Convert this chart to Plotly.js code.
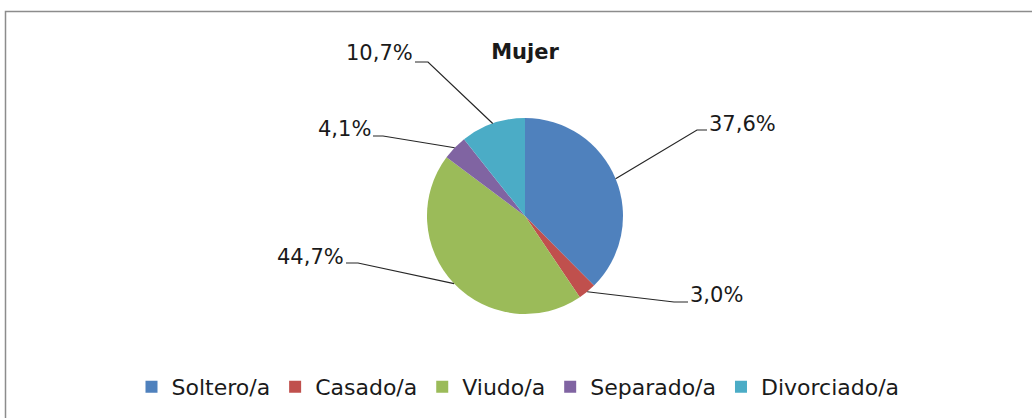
<!DOCTYPE html>
<html>
<head>
<meta charset="utf-8">
<script src="https://cdn.plot.ly/plotly-3.0.1.min.js"></script>
<style>html,body{margin:0;padding:0;background:#fff;}#chart{width:1032px;height:418px;}</style>
</head>
<body>
<div id="chart"></div>
<script>
// ---- data ----
const categories = ["Soltero/a", "Casado/a", "Viudo/a", "Separado/a", "Divorciado/a"];
const values = [37.6, 3.0, 44.7, 4.1, 10.7];
const colors = ["#4F81BD", "#C0504D", "#9BBB59", "#8064A2", "#4BACC6"];
const chartTitle = "Mujer";

// ---- layout constants (pixels) ----
const W = 1032, H = 418;
const CX = 525, CY = 216, R = 98;
// per-slice label placement: elbow of leader line, text anchor and side
const labelPlacement = [
  {ex: 697, ey: 130, tx: 708, ty: 124, side: "right"},
  {ex: 674, ey: 302, tx: 689, ty: 295, side: "right"},
  {ex: 358, ey: 263, tx: 345, ty: 257, side: "left"},
  {ex: 383, ey: 136, tx: 372, ty: 129, side: "left"},
  {ex: 428, ey: 62,  tx: 414, ty: 53,  side: "left"}
];

const px = x => x / W;
const py = y => 1 - y / H;
const fmt = v => v.toFixed(1).replace(".", ",") + "%";

const total = values.reduce((a, b) => a + b, 0);
const shapes = [];
const annotations = [];
let cum = 0;
values.forEach((v, i) => {
  const mid = (cum + v / 2) / total * 2 * Math.PI; // clockwise from top
  cum += v;
  const tipX = CX + R * Math.sin(mid);
  const tipY = CY - R * Math.cos(mid);
  const L = labelPlacement[i];
  const hx = L.side === "right" ? L.tx - 1 : L.tx + 1;
  shapes.push({
    type: "path", xref: "paper", yref: "paper",
    path: `M${px(tipX)},${py(tipY)} L${px(L.ex)},${py(L.ey)} L${px(hx)},${py(L.ey)}`,
    line: {color: "#262626", width: 1.2}
  });
  annotations.push({
    xref: "paper", yref: "paper", x: px(L.tx), y: py(L.ty),
    xanchor: L.side === "right" ? "left" : "right", yanchor: "middle",
    text: fmt(v), showarrow: false, borderpad: 0,
    font: {family: "DejaVu Sans", size: 21, color: "#1a1a1a"}
  });
});

// chart frame
shapes.push({
  type: "rect", xref: "paper", yref: "paper",
  x0: px(5.5), y0: py(11.5), x1: px(W + 20), y1: py(H + 20),
  line: {color: "#8c8c8c", width: 1.5}, fillcolor: "rgba(0,0,0,0)"
});

const trace = {
  type: "pie",
  labels: categories,
  values: values,
  sort: false,
  direction: "clockwise",
  rotation: 0,
  textinfo: "none",
  hoverinfo: "label+percent",
  marker: {colors: colors, line: {width: 0}},
  domain: {x: [px(CX - R), px(CX + R)], y: [py(CY + R), py(CY - R)]}
};

const layout = {
  width: W, height: H,
  margin: {l: 0, r: 0, t: 0, b: 0},
  paper_bgcolor: "#ffffff",
  plot_bgcolor: "#ffffff",
  font: {family: "DejaVu Sans", color: "#1a1a1a"},
  title: {
    text: "<b>" + chartTitle + "</b>",
    x: px(525), xanchor: "center", y: py(52), yanchor: "middle",
    xref: "paper", yref: "paper",
    font: {family: "DejaVu Sans", size: 21, color: "#1a1a1a"}
  },
  showlegend: true,
  legend: {
    orientation: "h",
    x: px(518), xanchor: "center",
    y: py(387), yanchor: "middle",
    font: {family: "DejaVu Sans", size: 22, color: "#1a1a1a"},
    traceorder: "normal",
    itemwidth: 30
  },
  shapes: shapes,
  annotations: annotations
};

Plotly.newPlot("chart", [trace], layout, {displayModeBar: false, staticPlot: true});
</script>
</body>
</html>
